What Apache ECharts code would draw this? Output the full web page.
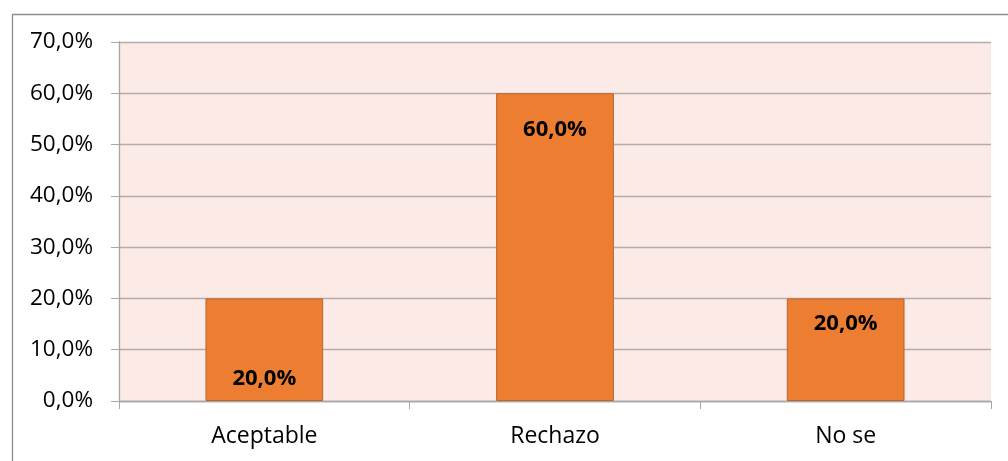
<!DOCTYPE html>
<html><head><meta charset="utf-8">
<script src="https://cdn.jsdelivr.net/npm/echarts@6/dist/echarts.min.js"></script>
<style>html,body{margin:0;padding:0;background:#fff}#c{width:1008px;height:461px}</style>
</head><body><div id="c"></div>
<script>
var categories = ['Aceptable', 'Rechazo', 'No se'];
var values = [20.0, 60.0, 20.0];
var labelPositions = ['insideBottom', 'insideTop', 'insideTop'];
var yTicks = [0, 10, 20, 30, 40, 50, 60, 70];

var chart = echarts.init(document.getElementById('c'));
var font = '"Open Sans", "Liberation Sans", sans-serif';
chart.setOption({
  animation: false,
  graphic: [{
    type: 'rect', left: 10, top: 12, shape: {width: 1020, height: 470},
    style: {fill: 'none', stroke: '#8c8c8c', lineWidth: 1.3}, z: -1
  }],
  grid: {left: 119, right: 17, top: 42, bottom: 60, show: true, backgroundColor: '#FBEAE6', borderWidth: 0},
  xAxis: {
    type: 'category', data: categories,
    axisLine: {lineStyle: {color: '#a6a6a6', width: 1.3}},
    axisTick: {show: true, length: 8, lineStyle: {color: '#a6a6a6'}},
    axisLabel: {color: '#000', fontFamily: font, fontSize: 23, margin: 24}
  },
  yAxis: {
    type: 'value', min: yTicks[0], max: yTicks[yTicks.length - 1], interval: 10,
    axisLine: {show: true, lineStyle: {color: '#a6a6a6', width: 1.3}},
    axisTick: {show: true, length: 8, lineStyle: {color: '#a6a6a6'}},
    splitLine: {lineStyle: {color: '#b5adac', width: 1.3}},
    axisLabel: {color: '#000', fontFamily: font, fontSize: 22.5, margin: 26,
      formatter: function (v) { return v.toFixed(1).replace('.', ',') + '%'; }}
  },
  series: [{
    type: 'bar', barWidth: '40.5%',
    data: values.map(function (v, i) {
      return {value: v, label: {position: labelPositions[i], distance: i === 0 ? 11 : (i === 1 ? 25 : 14)}};
    }),
    itemStyle: {color: '#ED7D31', borderColor: '#B9652F', borderWidth: 1},
    label: {show: true, color: '#000', fontWeight: 'bold', fontFamily: font, fontSize: 22,
      formatter: function (p) { return p.value.toFixed(1).replace('.', ',') + '%'; }}
  }]
});
</script></body></html>
